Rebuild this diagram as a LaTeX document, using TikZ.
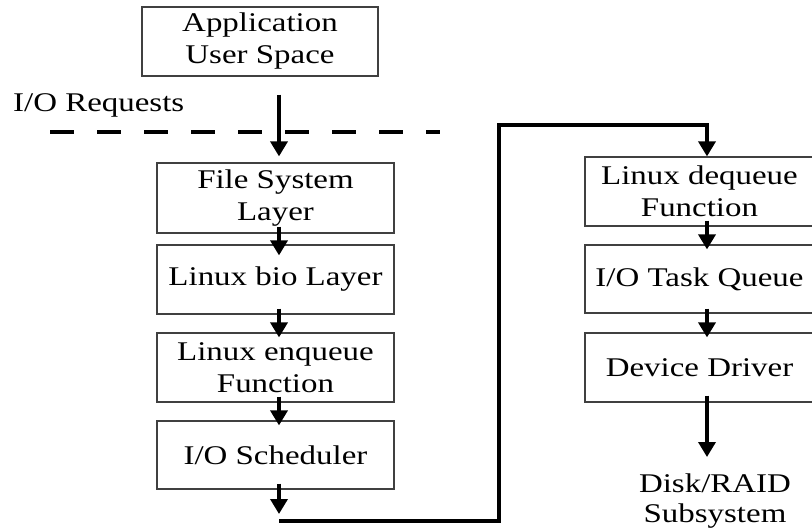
\documentclass[tikz,border=0pt]{standalone}
\usepackage{fontspec}
\setmainfont{Liberation Serif}[FakeStretch=1.22]
\usetikzlibrary{arrows.meta}
\begin{document}
\begin{tikzpicture}[x=1pt,y=1pt,
  box/.style={draw=black!75, line width=1.2pt, fill=white, minimum width=237pt, minimum height=69pt, inner sep=0pt, align=center, font=\fontsize{27pt}{32pt}\selectfont},
  rbox/.style={box, minimum width=229pt},
  lbl/.style={inner sep=0pt, align=center, font=\fontsize{27pt}{30pt}\selectfont},
  arr/.style={line width=3.5pt, -{Triangle[length=15pt,width=17pt]}},
  wire/.style={line width=3.5pt}
]
\useasboundingbox (0,0) rectangle (812,531);
\clip (0,0) rectangle (812,531);
% dashed separator
\draw[line width=3.5pt, dash pattern=on 24pt off 23pt] (50,399) -- (440,399);
\node[lbl, anchor=base west] (req) at (13,419) {I/O Requests};
% left column
\node[box, minimum width=236pt] (app) at (260,489.5) {Application\\User Space};
\node[box, minimum height=70pt] (fs) at (275.5,333) {File System\\Layer};
\node[box] (bio) at (275.5,251.5) {Linux bio Layer};
\node[box] (enq) at (275.5,163.5) {Linux enqueue\\Function};
\node[box, minimum height=68pt] (sched) at (275.5,76) {I/O Scheduler};
% right column
\node[rbox] (deq) at (699.5,339.5) {Linux dequeue\\Function};
\node[rbox, minimum height=68pt] (tq) at (699.5,252) {I/O Task Queue};
\node[rbox] (dd) at (699.5,163.5) {Device Driver};
\node[lbl] (disk) at (715,30) {Disk/RAID\\Subsystem};
% coordinates
\coordinate (c1) at (279,17);
\coordinate (c2) at (279,10);
\coordinate (b1) at (499,10);
\coordinate (b2) at (499,406);
\coordinate (b3) at (707,406);
\coordinate (d1) at (707,74);
% arrows
\draw[arr] ([xshift=19pt,yshift=-18pt]app.south) -- ([xshift=3.5pt,yshift=6pt]fs.north);
\draw[arr] ([xshift=3.5pt,yshift=7pt]fs.south) -- ([xshift=3.5pt,yshift=-11pt]bio.north);
\draw[arr] ([xshift=3.5pt,yshift=6pt]bio.south) -- ([xshift=3.5pt,yshift=-5pt]enq.north);
\draw[arr] ([xshift=3.5pt,yshift=6pt]enq.south) -- ([xshift=3.5pt,yshift=-5pt]sched.north);
\draw[arr] ([xshift=3.5pt,yshift=6pt]sched.south) -- (c1);
\draw[arr] (c2) -- (b1) -- (b2) -- (b3) -- ([xshift=7.5pt]deq.north);
\draw[arr] ([xshift=7.5pt,yshift=6pt]deq.south) -- ([xshift=7.5pt,yshift=-5pt]tq.north);
\draw[arr] ([xshift=7.5pt,yshift=5pt]tq.south) -- ([xshift=7.5pt,yshift=-5pt]dd.north);
\draw[arr] ([xshift=7.5pt,yshift=7pt]dd.south) -- (d1);
\end{tikzpicture}
\end{document}
